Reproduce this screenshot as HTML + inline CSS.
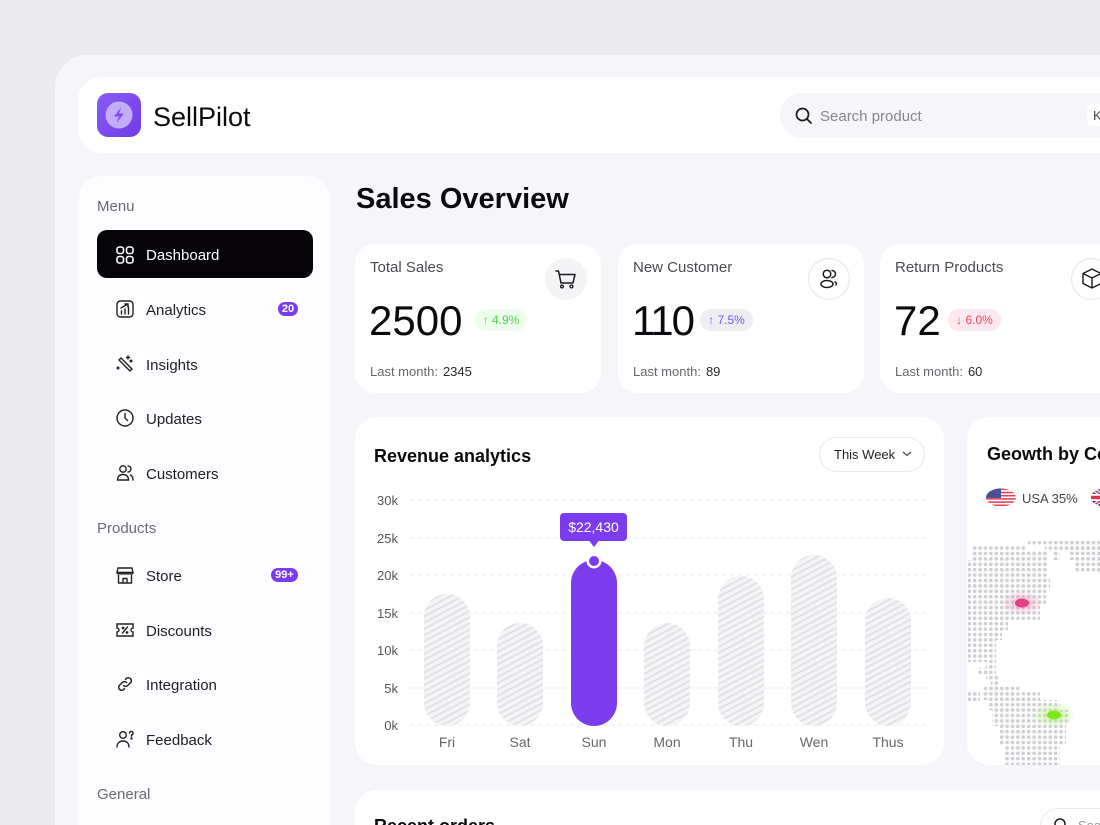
<!DOCTYPE html>
<html>
<head>
<meta charset="utf-8">
<style>
  html,body{margin:0;padding:0;width:1100px;height:825px;overflow:hidden;}
  body{background:#ebebee;font-family:"Liberation Sans",sans-serif;color:#111;}
  #wrap{position:relative;width:1100px;height:825px;overflow:hidden;}
  .abs{position:absolute;}
  .card{position:absolute;background:#fff;}
  .t{position:absolute;white-space:nowrap;}
  .nav{position:absolute;left:146px;font-size:15px;color:#1e1e22;height:20px;line-height:20px;}
  .ico{position:absolute;left:115px;width:20px;height:20px;}
  .lbl{position:absolute;font-size:15px;color:#6a6a70;height:20px;line-height:20px;}
  .badge{position:absolute;background:#7c3aed;color:#fff;font-size:11px;font-weight:bold;height:14px;line-height:14px;border-radius:7px;text-align:center;}
  .scl{position:absolute;font-size:15px;color:#4a4a50;height:20px;line-height:20px;}
  .big{position:absolute;font-size:42px;color:#0b0b0f;height:48px;line-height:48px;}
  .pill{position:absolute;height:22px;line-height:22px;font-size:12px;border-radius:11px;text-align:center;}
  .lm{position:absolute;font-size:13px;color:#66666c;height:18px;line-height:18px;}
  .lm b{font-weight:normal;color:#2a2a2e;margin-left:5px;}
</style>
</head>
<body>
<div id="wrap">
<!-- app container -->
<div class="abs" style="left:55px;top:55px;width:1045px;height:770px;background:#f6f6fa;border-radius:32px 0 0 0;"></div>

<!-- header -->
<div class="card" style="left:78px;top:77px;width:1022px;height:76px;border-radius:24px 0 0 24px;"></div>
<div class="abs" style="left:97px;top:93px;width:44px;height:44px;border-radius:11px;background:linear-gradient(135deg,#8b5cf6,#6f3be6);"></div>
<svg class="abs" style="left:97px;top:93px" width="44" height="44" viewBox="0 0 44 44">
  <circle cx="22" cy="22" r="13.5" fill="#c4adf8"/>
  <path d="M24.5 14 L17 23.5 H22 L19.5 30 L27 20.5 H22 Z" fill="#7c4df0"/>
</svg>
<div class="t" style="left:153px;top:101px;font-size:27px;line-height:32px;color:#0b0b0f;">SellPilot</div>

<div class="abs" style="left:780px;top:93px;width:320px;height:45px;border-radius:22px 0 0 22px;background:#f6f5f9;"></div>
<svg class="abs" style="left:794px;top:106px" width="20" height="20" viewBox="0 0 20 20">
  <circle cx="8.5" cy="8.5" r="6" fill="none" stroke="#1a1a1e" stroke-width="1.7"/>
  <line x1="13" y1="13" x2="17" y2="17" stroke="#1a1a1e" stroke-width="1.7" stroke-linecap="round"/>
</svg>
<div class="t" style="left:820px;top:107px;font-size:15px;line-height:20px;color:#86868c;">Search product</div>
<div class="abs" style="left:1087px;top:104px;width:13px;height:22px;background:#fff;border-radius:5px 0 0 5px;"></div>
<div class="t" style="left:1093px;top:107px;font-size:13px;line-height:18px;color:#444;">K</div>

<!-- sidebar -->
<div class="card" style="left:78px;top:176px;width:253px;height:649px;border-radius:24px 24px 0 0;background:#fdfdff;"></div>
<div class="lbl" style="left:97px;top:197px;">Menu</div>
<div class="abs" style="left:97px;top:230px;width:216px;height:48px;border-radius:10px;background:#060409;"></div>
<svg class="ico" style="top:245px" viewBox="0 0 20 20" fill="none" stroke="#fff" stroke-width="1.6">
  <rect x="2" y="2" width="6.5" height="6.5" rx="2.2"/><rect x="11.5" y="2" width="6.5" height="6.5" rx="2.2"/>
  <rect x="2" y="11.5" width="6.5" height="6.5" rx="2.2"/><rect x="11.5" y="11.5" width="6.5" height="6.5" rx="2.2"/>
</svg>
<div class="nav" style="top:246px;color:#fff;">Dashboard</div>

<svg class="ico" style="top:299px" viewBox="0 0 20 20" fill="none" stroke="#222" stroke-width="1.4" stroke-linecap="round">
  <rect x="2" y="2" width="16" height="16" rx="3.5"/><line x1="6.5" y1="15" x2="6.5" y2="12"/><line x1="10" y1="15" x2="10" y2="10"/><line x1="13.5" y1="15" x2="13.5" y2="8"/><path d="M6 9 L12 5.5 M10 5 H13 V8"/>
</svg>
<div class="nav" style="top:301px;">Analytics</div>
<div class="badge" style="left:278px;top:302px;width:20px;">20</div>

<svg class="ico" style="top:354px" viewBox="0 0 20 20" fill="none" stroke="#222" stroke-width="1.4" stroke-linecap="round">
  <path d="M4 6 L15 17 M6 4 L17 15 M4 6 L6 4 M15 17 L17 15"/><path d="M13 2 v3 M11.5 3.5 h3"/><circle cx="3" cy="14" r="0.8"/><circle cx="16" cy="7" r="0.8"/>
</svg>
<div class="nav" style="top:356px;">Insights</div>

<svg class="ico" style="top:408px" viewBox="0 0 20 20" fill="none" stroke="#222" stroke-width="1.4" stroke-linecap="round">
  <circle cx="10" cy="10" r="8"/><path d="M10 5.5 V10 L12.5 12.5"/>
</svg>
<div class="nav" style="top:410px;">Updates</div>

<svg class="ico" style="top:463px" viewBox="0 0 20 20" fill="none" stroke="#222" stroke-width="1.4" stroke-linecap="round">
  <circle cx="8" cy="6" r="3.2"/><path d="M2.5 17 c0-4 2.5-5.5 5.5-5.5 s5.5 1.5 5.5 5.5 z"/><path d="M13 3 a3 3 0 0 1 0 6 M15.5 12 c1.5 .8 2.5 2.3 2.5 5"/>
</svg>
<div class="nav" style="top:465px;">Customers</div>

<div class="lbl" style="left:97px;top:519px;">Products</div>

<svg class="ico" style="top:565px" viewBox="0 0 20 20" fill="none" stroke="#222" stroke-width="1.4" stroke-linejoin="round">
  <path d="M3 3 H17 L18 7.5 H2 Z"/><path d="M2 7.5 c0 2 3.2 2 3.2 0 c0 2 3.2 2 3.2 0 c0 2 3.2 2 3.2 0 c0 2 3.2 2 3.2 0 c0 2 3.2 2 3.2 0"/><path d="M3.5 10 V18 H16.5 V10"/><path d="M8 18 V13.5 H12 V18"/>
</svg>
<div class="nav" style="top:567px;">Store</div>
<div class="badge" style="left:271px;top:568px;width:27px;">99+</div>

<svg class="ico" style="top:620px" viewBox="0 0 20 20" fill="none" stroke="#222" stroke-width="1.4" stroke-linecap="round">
  <path d="M2 4 H18 V8 a2 2 0 0 0 0 4 V16 H2 V12 a2 2 0 0 0 0-4 Z"/><path d="M7.5 13 L12.5 7"/><circle cx="8" cy="8" r="0.7"/><circle cx="12" cy="12.5" r="0.7"/>
</svg>
<div class="nav" style="top:622px;">Discounts</div>

<svg class="ico" style="top:674px" viewBox="0 0 20 20" fill="none" stroke="#222" stroke-width="1.5" stroke-linecap="round">
  <path d="M8.5 11.5 a3 3 0 0 0 4.2 0 l3-3 a3 3 0 0 0 -4.2-4.2 l-1 1"/><path d="M11.5 8.5 a3 3 0 0 0 -4.2 0 l-3 3 a3 3 0 0 0 4.2 4.2 l1-1"/>
</svg>
<div class="nav" style="top:676px;">Integration</div>

<svg class="ico" style="top:729px" viewBox="0 0 20 20" fill="none" stroke="#222" stroke-width="1.4" stroke-linecap="round">
  <circle cx="8" cy="6" r="3.3"/><path d="M2 18 c0-4 2.8-6 6-6 s6 2 6 6"/><path d="M14.5 4 a1.8 1.8 0 1 1 2 2 v1.2"/><circle cx="16.5" cy="9.5" r="0.5"/>
</svg>
<div class="nav" style="top:731px;">Feedback</div>

<div class="lbl" style="left:97px;top:785px;">General</div>

<!-- main title -->
<div class="t" style="left:356px;top:182px;font-size:29px;line-height:34px;font-weight:bold;color:#0b0b0f;">Sales Overview</div>

<!-- stat cards -->
<div class="card" style="left:355px;top:244px;width:246px;height:149px;border-radius:20px;"></div>
<div class="card" style="left:618px;top:244px;width:246px;height:149px;border-radius:20px;"></div>
<div class="card" style="left:880px;top:244px;width:220px;height:149px;border-radius:20px 0 0 20px;"></div>

<div class="scl" style="left:370px;top:258px;">Total Sales</div>
<div class="scl" style="left:633px;top:258px;">New Customer</div>
<div class="scl" style="left:895px;top:258px;">Return Products</div>

<svg class="abs" style="left:544px;top:257px" width="44" height="44" viewBox="0 0 44 44">
  <circle cx="22" cy="22" r="21" fill="#f4f4f6"/>
  <path d="M12 14 H14.5 L17 26 H29 L31 17.5 H15.5" fill="none" stroke="#1a1a1e" stroke-width="1.5" stroke-linejoin="round" stroke-linecap="round"/>
  <circle cx="18" cy="29.5" r="1.4" fill="none" stroke="#1a1a1e" stroke-width="1.3"/><circle cx="27.5" cy="29.5" r="1.4" fill="none" stroke="#1a1a1e" stroke-width="1.3"/>
</svg>
<svg class="abs" style="left:807px;top:257px" width="44" height="44" viewBox="0 0 44 44">
  <circle cx="22" cy="22" r="20.5" fill="#fff" stroke="#ececef" stroke-width="1.5"/>
  <circle cx="20" cy="17" r="3.8" fill="none" stroke="#1a1a1e" stroke-width="1.5"/>
  <ellipse cx="20" cy="27" rx="6" ry="3.5" fill="none" stroke="#1a1a1e" stroke-width="1.5"/>
  <path d="M25 13.5 a3.5 3.5 0 0 1 0 7 M28 25 c1.5 .6 2 1.5 1 3" fill="none" stroke="#1a1a1e" stroke-width="1.5" stroke-linecap="round"/>
</svg>
<svg class="abs" style="left:1070px;top:257px" width="30" height="44" viewBox="0 0 30 44">
  <circle cx="22" cy="22" r="20.5" fill="#fff" stroke="#ececef" stroke-width="1.5"/>
  <path d="M22 12 L31 16.5 V26.5 L22 31 L13 26.5 V16.5 Z M13 16.5 L22 21 L31 16.5 M22 21 V31" fill="none" stroke="#1a1a1e" stroke-width="1.4" stroke-linejoin="round"/>
</svg>

<div class="big" style="left:369px;top:297px;">2500</div>
<div class="big" style="left:632px;top:297px;letter-spacing:-2px;">110</div>
<div class="big" style="left:894px;top:297px;">72</div>

<div class="pill" style="left:475px;top:309px;width:52px;background:#edfdec;color:#4fd14a;">↑ 4.9%</div>
<div class="pill" style="left:700px;top:309px;width:53px;background:#ededf2;color:#6b5cf2;">↑ 7.5%</div>
<div class="pill" style="left:948px;top:309px;width:53px;background:#fde8ed;color:#e8475a;">↓ 6.0%</div>

<div class="lm" style="left:370px;top:363px;">Last month:<b>2345</b></div>
<div class="lm" style="left:633px;top:363px;">Last month:<b>89</b></div>
<div class="lm" style="left:895px;top:363px;">Last month:<b>60</b></div>

<!-- revenue card -->
<div class="card" style="left:355px;top:417px;width:589px;height:348px;border-radius:22px;"></div>
<div class="t" style="left:374px;top:445px;font-size:18px;line-height:22px;font-weight:bold;color:#0b0b0f;">Revenue analytics</div>
<div class="abs" style="left:819px;top:437px;width:104px;height:33px;border:1px solid #e8e8ec;border-radius:18px;background:#fff;"></div>
<div class="t" style="left:834px;top:446px;font-size:13px;line-height:18px;color:#222;">This Week</div>
<svg class="abs" style="left:901px;top:450px" width="12" height="8" viewBox="0 0 12 8"><path d="M2 2 L6 5.5 L10 2" fill="none" stroke="#444" stroke-width="1.2"/></svg>

<!-- geo card -->
<div class="card" style="left:967px;top:417px;width:133px;height:348px;border-radius:22px 0 0 22px;overflow:hidden;">
  <div class="t" style="left:20px;top:26px;font-size:18px;line-height:22px;font-weight:bold;color:#0b0b0f;">Geowth by Country</div>
  <div class="t" style="left:55px;top:73px;font-size:13px;line-height:17px;color:#444;">USA 35%</div>
</div>
<svg class="abs" style="left:985px;top:487px" width="34" height="21" viewBox="0 0 34 21">
  <defs><clipPath id="fl"><ellipse cx="16" cy="10.5" rx="15" ry="9"/></clipPath></defs>
  <g clip-path="url(#fl)">
    <rect width="34" height="21" fill="#fff"/>
    <rect y="1.5" width="34" height="1.6" fill="#e0455a"/><rect y="4.7" width="34" height="1.6" fill="#e0455a"/><rect y="7.9" width="34" height="1.6" fill="#e0455a"/><rect y="11.1" width="34" height="1.6" fill="#e0455a"/><rect y="14.3" width="34" height="1.6" fill="#e0455a"/><rect y="17.5" width="34" height="1.6" fill="#e0455a"/>
    <rect width="16" height="11" fill="#4a4f9a"/>
  </g>
</svg>
<svg class="abs" style="left:1090px;top:487px" width="10" height="21" viewBox="0 0 10 21">
  <defs><clipPath id="uk"><ellipse cx="15" cy="10.5" rx="14" ry="9"/></clipPath></defs>
  <g clip-path="url(#uk)">
    <rect width="30" height="21" fill="#2d3a8c"/>
    <path d="M0 0 L30 21 M30 0 L0 21" stroke="#fff" stroke-width="4"/>
    <path d="M0 0 L30 21 M30 0 L0 21" stroke="#d8334a" stroke-width="1.5"/>
    <rect x="11" width="8" height="21" fill="#fff"/><rect y="7" width="30" height="7" fill="#fff"/>
    <rect x="13" width="4" height="21" fill="#d8334a"/><rect y="8.8" width="30" height="3.4" fill="#d8334a"/>
  </g>
</svg>

<!-- bottom card (clipped at frame edge) -->
<div class="card" style="left:355px;top:790px;width:745px;height:35px;border-radius:22px 0 0 0;overflow:hidden;">
  <div class="t" style="left:19px;top:25px;font-size:18px;line-height:22px;font-weight:bold;color:#0b0b0f;">Recent orders</div>
  <div class="abs" style="left:685px;top:18px;width:80px;height:36px;border:1px solid #e8e8ec;border-radius:18px;background:#fff;"></div>
  <svg class="abs" style="left:698px;top:27px" width="16" height="16" viewBox="0 0 16 16"><circle cx="7" cy="7" r="5" fill="none" stroke="#1a1a1e" stroke-width="1.5"/></svg>
  <div class="t" style="left:723px;top:27px;font-size:13px;line-height:18px;color:#999;">Search</div>
</div>

<!-- chart + map overlay -->
<svg class="abs" style="left:0;top:0" width="1100" height="825" viewBox="0 0 1100 825">
  <defs>
    <pattern id="hatch" width="5.5" height="5.5" patternUnits="userSpaceOnUse" patternTransform="rotate(-28)">
      <rect width="5.5" height="5.5" fill="#f4f4f6"/>
      <rect width="5.5" height="1.8" fill="#e0e0e4"/>
    </pattern>
    <pattern id="dots" x="0" y="0" width="5.4" height="5.4" patternUnits="userSpaceOnUse">
      <circle cx="2.7" cy="2.7" r="1.85" fill="#cfcfd4"/>
    </pattern>
    <radialGradient id="pinkg"><stop offset="0" stop-color="#f06aa0" stop-opacity="0.55"/><stop offset="1" stop-color="#f6a5c5" stop-opacity="0.15"/></radialGradient>
    <radialGradient id="greeng"><stop offset="0" stop-color="#9ef04a" stop-opacity="0.6"/><stop offset="1" stop-color="#c8f59a" stop-opacity="0.2"/></radialGradient>
    <clipPath id="geoclip"><rect x="967" y="417" width="133" height="348" rx="22"/></clipPath>
  </defs>

  <g stroke="#ebebef" stroke-width="1" stroke-dasharray="5 3">
    <line x1="410" y1="500" x2="927" y2="500"/>
    <line x1="410" y1="538" x2="927" y2="538"/>
    <line x1="410" y1="575" x2="927" y2="575"/>
    <line x1="410" y1="613" x2="927" y2="613"/>
    <line x1="410" y1="650" x2="927" y2="650"/>
    <line x1="410" y1="688" x2="927" y2="688"/>
    <line x1="410" y1="725" x2="927" y2="725"/>
  </g>
  <g font-family="Liberation Sans, sans-serif" font-size="13" fill="#55555b" text-anchor="end">
    <text x="398" y="505">30k</text>
    <text x="398" y="543">25k</text>
    <text x="398" y="580">20k</text>
    <text x="398" y="618">15k</text>
    <text x="398" y="655">10k</text>
    <text x="398" y="693">5k</text>
    <text x="398" y="730">0k</text>
  </g>
  <rect x="424" y="594" width="46" height="132" rx="23" fill="url(#hatch)"/>
  <rect x="497" y="623" width="46" height="103" rx="23" fill="url(#hatch)"/>
  <rect x="571" y="560" width="46" height="166" rx="23" fill="#7a3cec"/>
  <rect x="644" y="623" width="46" height="103" rx="23" fill="url(#hatch)"/>
  <rect x="718" y="576" width="46" height="150" rx="23" fill="url(#hatch)"/>
  <rect x="791" y="555" width="46" height="171" rx="23" fill="url(#hatch)"/>
  <rect x="865" y="598" width="46" height="128" rx="23" fill="url(#hatch)"/>
  <circle cx="594" cy="561" r="7.5" fill="#fff"/>
  <circle cx="594" cy="561" r="5" fill="#7a3cec"/>
  <rect x="560" y="513" width="67" height="28" rx="4" fill="#7a3cec"/>
  <path d="M589 540.5 L599 540.5 L594 547 Z" fill="#7a3cec"/>
  <text x="593.5" y="532" font-family="Liberation Sans, sans-serif" font-size="14" fill="#fff" text-anchor="middle">$22,430</text>
  <g font-family="Liberation Sans, sans-serif" font-size="14" fill="#66666c" text-anchor="middle">
    <text x="447" y="747">Fri</text>
    <text x="520" y="747">Sat</text>
    <text x="594" y="747">Sun</text>
    <text x="667" y="747">Mon</text>
    <text x="741" y="747">Thu</text>
    <text x="814" y="747">Wen</text>
    <text x="888" y="747">Thus</text>
  </g>

  <g clip-path="url(#geoclip)">
    <g fill="url(#dots)">
      <path d="M1028 539 H1100 V546 H1090 V552 H1060 V560 H1052 V552 H1045 V546 H1028 Z"/>
      <path d="M1070 546 H1100 V572 H1075 V560 H1070 Z"/>
      <path d="M972 546 H1027 V551 H1048 V578 H1050 V590 H1046 V606 H1040 V620 H1008 V630 H1002 V640 H996 V662 H968 V560 H972 Z"/>
      <path d="M986 662 H996 V676 H1000 V690 H991 V680 H986 Z"/>
      <path d="M978 668 H990 V676 H978 Z"/>
      <path d="M968 690 H980 V702 H968 Z"/>
      <path d="M995 695 H1015 V700 H995 Z"/>
      <path d="M982 686 H1020 V692 H1040 V700 H1060 V710 H1070 V725 H1066 V745 H1060 V765 H1005 V745 H1000 V726 H992 V710 H988 V700 H982 Z"/>
    </g>
    <ellipse cx="1022" cy="603" rx="19" ry="11" fill="url(#pinkg)"/>
    <ellipse cx="1022" cy="603" rx="7" ry="4.5" fill="#e43f80"/>
    <ellipse cx="1054" cy="715" rx="19" ry="11" fill="url(#greeng)"/>
    <ellipse cx="1054" cy="715" rx="7" ry="4.5" fill="#7ee81c"/>
  </g>
</svg>
</div>
</body>
</html>
